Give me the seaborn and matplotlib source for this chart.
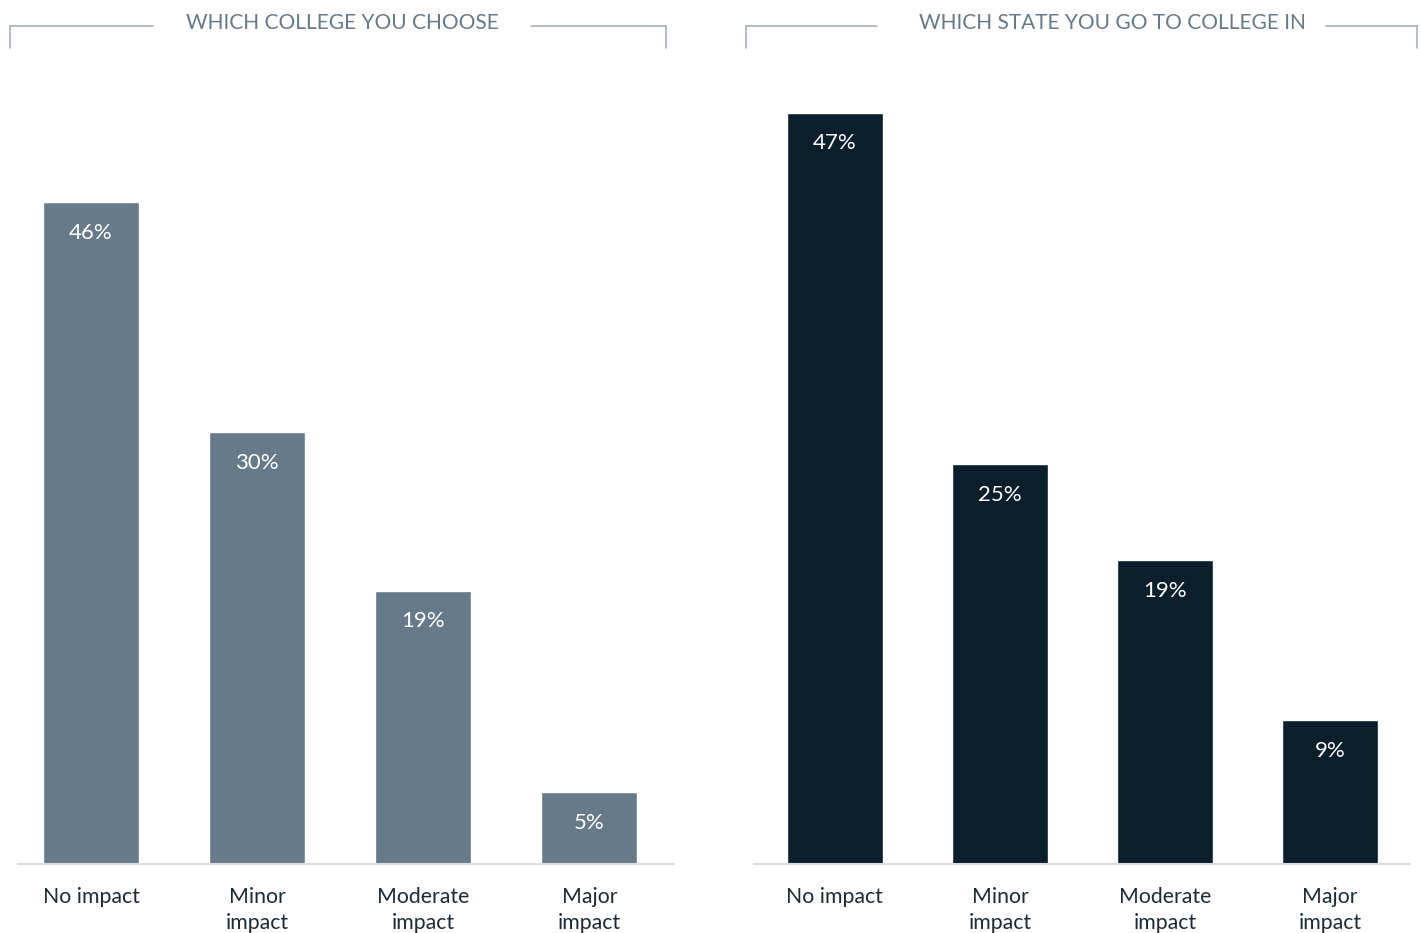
import matplotlib
matplotlib.use("Agg")
import matplotlib.pyplot as plt
from matplotlib.lines import Line2D
import seaborn as sns
import pandas as pd

# Survey responses: impact on college decisions
categories = ["No impact", "Minor\nimpact", "Moderate\nimpact", "Major\nimpact"]
college_choice = [46, 30, 19, 5]
state_choice = [47, 25, 19, 9]
panel_titles = ["WHICH COLLEGE YOU CHOOSE", "WHICH STATE YOU GO TO COLLEGE IN"]

sns.set_theme(style="white")
plt.rcParams["font.family"] = ["Lato", "DejaVu Sans"]

W, H = 1421, 933
fig = plt.figure(figsize=(W / 100, H / 100), dpi=100)
fig.patch.set_facecolor("white")

bar_colors = ["#667a89", "#0b1e2b"]
title_color = "#667a89"
label_color = "#1c2b36"
base_color = "#d9dde1"
bracket_color = "#a7b1b9"

def px(x0, y0, w, h):
    return [x0 / W, 1 - (y0 + h) / H, w / W, h / H]

panels = [
    dict(vals=college_choice, rect=px(18, 100, 656, 764), xlim=(-0.44, 3.51),
         ylim=53.1, title_x=342, bracket=(10, 153, 531, 666)),
    dict(vals=state_choice, rect=px(754, 100, 656, 764), xlim=(-0.49, 3.485),
         ylim=47.8, title_x=1112, bracket=(746, 877, 1326, 1417)),
]

for k, p in enumerate(panels):
    ax = fig.add_axes(p["rect"])
    df = pd.DataFrame({"category": categories, "share": p["vals"]})
    sns.barplot(data=df, x="category", y="share", color=bar_colors[k],
                saturation=1, width=0.58, ax=ax)
    ax.set_xlim(*p["xlim"])
    ax.set_ylim(0, p["ylim"])
    ax.set_xlabel("")
    ax.set_ylabel("")
    ax.set_yticks([])
    for s in ["top", "right", "left"]:
        ax.spines[s].set_visible(False)
    ax.spines["bottom"].set_color(base_color)
    ax.spines["bottom"].set_linewidth(1.5)
    ax.tick_params(axis="x", length=0, pad=16.5)
    ax.set_xticks(range(len(categories)))
    ax.set_xticklabels(categories, fontsize=15.3, color=label_color,
                       linespacing=1.37)
    for i, v in enumerate(p["vals"]):
        ax.annotate(f"{v}%", xy=(i, v), xytext=(0, -22),
                    textcoords="offset points", ha="center", va="center",
                    color="white", fontsize=16)

    # Panel heading with bracket lines
    fig.text(p["title_x"] / W, 1 - 23 / H, panel_titles[k], ha="center",
             va="center", fontsize=15, color=title_color)
    x0, x1, x2, x3 = p["bracket"]
    yl, yb = 1 - 26 / H, 1 - 48 / H
    for xs, ys in [((x0 / W, x0 / W), (yb, yl)),
                   ((x0 / W, x1 / W), (yl, yl)),
                   ((x2 / W, x3 / W), (yl, yl)),
                   ((x3 / W, x3 / W), (yl, yb))]:
        fig.add_artist(Line2D(xs, ys, color=bracket_color, linewidth=1.2,
                              transform=fig.transFigure))

fig.savefig("out.png", dpi=100, facecolor="white")
